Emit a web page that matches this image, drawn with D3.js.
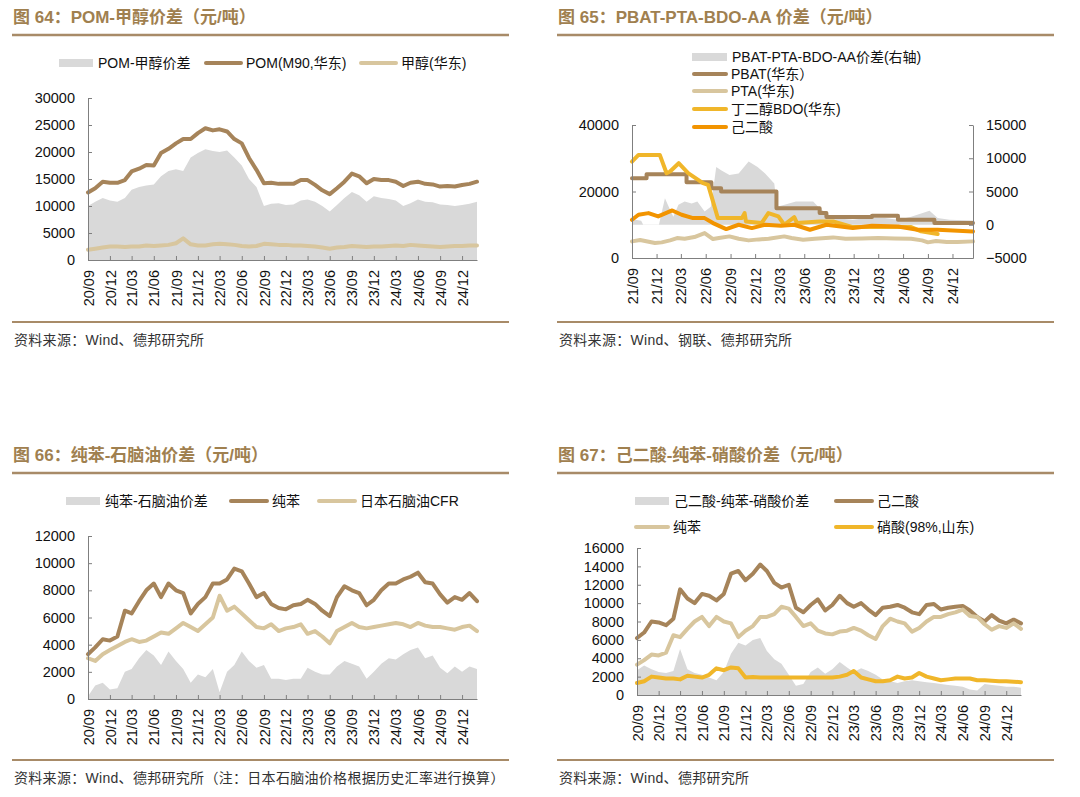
<!DOCTYPE html>
<html>
<head>
<meta charset="utf-8">
<title>价差图 64-67</title>
<style>
  body { margin: 0px; background: #fff; }
  text { font-family: "Liberation Sans", Arial, "Noto Sans CJK SC", sans-serif; }
  .axis path, .axis line { stroke: #7f7f7f; stroke-width: 1px; }
  .axis text { font-size: 14.5px; fill: #111; }
  .title { font-size: 17px; font-weight: bold; fill: #a0804f; }
  .legend { font-size: 14px; fill: #111; }
  .source { font-size: 14px; fill: #333; letter-spacing: 0.3px; }
  .rule { stroke: #a88b68; }
  .series { fill: none; stroke-width: 4px; stroke-linejoin: round; stroke-linecap: round; }
</style>
</head>
<body>
<svg width="1080" height="797"></svg>
<script src="https://d3js.org/d3.v7.min.js"></script>
<script>
// ---- data (monthly) ----
var months = ["2020-09","2020-10","2020-11","2020-12",
  "2021-01","2021-02","2021-03","2021-04","2021-05","2021-06","2021-07","2021-08","2021-09","2021-10","2021-11","2021-12",
  "2022-01","2022-02","2022-03","2022-04","2022-05","2022-06","2022-07","2022-08","2022-09","2022-10","2022-11","2022-12",
  "2023-01","2023-02","2023-03","2023-04","2023-05","2023-06","2023-07","2023-08","2023-09","2023-10","2023-11","2023-12",
  "2024-01","2024-02","2024-03","2024-04","2024-05","2024-06","2024-07","2024-08","2024-09","2024-10","2024-11","2024-12",
  "2025-01","2025-02"];

var ticks20 = ["20/09","20/12","21/03","21/06","21/09","21/12","22/03","22/06","22/09","22/12",
  "23/03","23/06","23/09","23/12","24/03","24/06","24/09","24/12"];
var ticks21 = ["21/09","21/12","22/03","22/06","22/09","22/12","23/03","23/06","23/09","23/12",
  "24/03","24/06","24/09","24/12"];

// 图64
var pomSpread = [10000,10800,11500,11000,
  10800,11500,13000,13500,13800,14000,15500,16500,16800,16500,19000,19800,
  20500,20200,20000,20300,19000,17500,15000,13500,10000,10400,10500,10200,
  10300,11000,11200,10800,10000,9000,10200,11500,12600,12000,10800,11800,
  11500,11300,11000,10000,10500,11200,10800,10700,10300,10200,10000,10200,
  10400,10800];
var pomPrice = [12500,13300,14500,14300,
  14300,14800,16400,16900,17600,17500,19800,20600,21600,22400,22400,23500,
  24400,24000,24200,23800,22400,21600,18900,16700,14200,14300,14100,14100,
  14100,14800,14800,13900,12900,12200,13300,14500,16000,15500,14200,15000,
  14800,14800,14500,13700,14300,14500,14100,14000,13600,13700,13600,13900,
  14100,14500];
var methanol = [1900,2100,2300,2500,
  2500,2400,2500,2500,2700,2600,2700,2800,3100,4000,2900,2700,
  2700,2900,3000,2900,2800,2600,2500,2600,3000,2900,2800,2800,
  2700,2700,2600,2500,2300,2100,2300,2400,2600,2500,2400,2500,
  2500,2600,2700,2600,2800,2700,2600,2500,2400,2500,2600,2600,
  2700,2700];

// 图65 (change points)
var pbatSpread = [["2021-09-01",2200],["2021-09-08",800],["2021-10-05",600],["2021-10-12",50],["2021-12-10",50],
  ["2022-01-01",4000],["2022-01-15",2700],["2022-02-01",1200],["2022-02-20",3000],["2022-03-15",3500],
  ["2022-04-10",3200],["2022-05-01",3500],["2022-05-28",2000],["2022-06-20",2700],["2022-07-10",8700],
  ["2022-07-28",8200],["2022-08-28",7500],["2022-10-01",7700],["2022-11-07",9500],["2022-12-10",8700],
  ["2023-01-07",7700],["2023-02-10",6200],["2023-02-20",2700],["2023-03-20",3000],["2023-05-01",3500],
  ["2023-07-04",3500],["2023-07-28",2500],["2023-09-16",1000],["2023-11-28",750],["2024-01-20",1000],
  ["2024-03-25",1000],["2024-05-13",750],["2024-07-01",1200],["2024-09-07",2100],["2024-10-07",1000],
  ["2024-11-20",750],["2025-02-15",650]];
var pbatPrice = [["2021-09-01",24000],["2021-10-25",25200],["2022-03-22",22800],["2022-06-22",21000],
  ["2022-07-28",20000],["2023-02-18",15000],["2023-07-28",13500],["2023-08-22",12300],["2024-02-07",12700],
  ["2024-05-13",11500],["2024-09-25",10500],["2025-02-15",10500]];
var ptaPrice = [["2021-09-01",5000],["2021-10-01",5400],["2021-11-25",4500],["2021-12-20",4700],["2022-01-20",5300],
  ["2022-02-15",6000],["2022-03-15",5800],["2022-04-20",6300],["2022-05-28",7500],["2022-06-28",5700],
  ["2022-07-20",6000],["2022-08-28",6500],["2022-10-01",5800],["2022-11-07",5300],["2022-12-15",5600],
  ["2023-01-20",5800],["2023-03-19",6500],["2023-04-15",6000],["2023-05-28",5500],["2023-07-10",5800],
  ["2023-09-16",6200],["2023-11-01",5800],["2024-01-01",5900],["2024-03-01",6000],["2024-05-01",5900],
  ["2024-07-01",5800],["2024-08-10",5300],["2024-09-01",4700],["2024-10-01",5100],["2024-11-10",4800],
  ["2024-12-20",4800],["2025-02-15",5000]];
var bdoPrice = [["2021-09-01",29000],["2021-09-25",31000],["2021-12-13",31000],["2022-01-07",25500],
  ["2022-01-20",26000],["2022-02-21",28500],["2022-03-28",25500],["2022-05-22",22500],["2022-06-10",22000],
  ["2022-07-16",12000],["2022-10-13",12000],["2022-10-23",13500],["2022-10-28",11000],["2022-12-25",10500],
  ["2023-01-19",13500],["2023-02-25",12500],["2023-03-19",10000],["2023-04-25",12300],["2023-05-05",10500],
  ["2023-07-28",11000],["2023-09-16",11000],["2023-11-28",9300],["2024-03-25",9300],["2024-07-01",9300],
  ["2024-08-07",8000],["2024-10-07",7200]];
var adipicEast = [["2021-09-01",11500],["2021-09-25",13000],["2021-11-01",13500],["2021-12-07",12500],
  ["2022-01-28",14300],["2022-03-04",13000],["2022-04-15",12000],["2022-05-28",12000],["2022-06-28",10500],
  ["2022-08-16",8700],["2022-10-01",10000],["2022-11-19",9000],["2023-01-07",10000],["2023-03-07",9700],
  ["2023-04-25",10000],["2023-06-22",8500],["2023-08-22",10000],["2023-11-28",9000],["2024-02-07",9700],
  ["2024-05-13",9500],["2024-07-25",8500],["2024-10-07",8500],["2025-02-15",8000]];

// 图66
var benzeneSpread = [200,1000,1200,700,
  800,2000,2200,3000,3600,3200,2500,3500,2800,2200,1200,1800,
  1600,2200,500,2000,2500,3500,2800,2300,2500,1500,1500,1400,
  1500,1500,2300,2000,1800,1800,2400,2800,2600,2400,1500,2000,
  2600,3000,2900,3300,3600,3800,3000,3200,2300,1900,2400,2000,
  2400,2200];
var benzene = [3300,3800,4400,4300,
  4600,6500,6300,7200,8000,8500,7500,8500,8000,7800,6300,7000,
  7500,8500,8500,8800,9600,9400,8500,7500,7800,7000,6700,6600,
  6900,7000,7300,7000,6500,6100,7500,8300,8000,7800,6900,7300,
  8000,8500,8500,8800,9000,9300,8600,8500,7700,7100,7500,7300,
  7800,7200];
var naphtha = [3000,2800,3300,3600,
  3900,4200,4400,4200,4300,4600,4900,4800,5200,5600,5300,5000,
  5500,6000,7600,6500,6800,6300,5800,5300,5200,5500,5000,5200,
  5300,5500,4800,5000,4600,4100,5000,5300,5600,5300,5200,5300,
  5400,5500,5600,5500,5300,5600,5400,5300,5300,5200,5100,5300,
  5400,5000];

// 图67
var adipicSpread = [2700,3200,2800,2500,
  2400,2600,5000,2800,2400,2200,1900,1600,2500,4500,5700,5400,
  6000,6200,4800,3900,3400,2200,1000,1200,2500,3000,2300,2800,
  3600,3000,2500,2900,2600,2200,1700,1500,1300,1500,1600,1500,
  1400,1300,1200,1100,1000,900,600,500,1200,1100,1000,900,
  900,800];
var adipicAcid = [6200,6800,8000,7900,
  7600,8300,11500,10500,10000,11000,10800,10300,11000,13200,13500,12500,
  13200,14200,13500,12200,11700,12000,9500,9000,9800,10400,9200,9800,
  10800,10000,9600,10000,9300,8700,9500,9600,9800,9500,9000,8800,
  9800,9900,9300,9500,9600,9700,9200,8500,8000,8700,8100,7800,
  8200,7800];
var nitricAcid = [1300,1500,2000,1900,
  1800,1800,1700,2100,2000,1900,2200,2900,2700,3000,2900,1900,
  1950,1900,1900,1900,1900,1900,1900,1900,1900,1900,1900,1900,
  2000,2200,2600,1900,1700,1500,1500,1600,2000,1800,1900,2400,
  2000,1800,1600,1700,1800,1800,1800,1600,1600,1550,1500,1500,
  1450,1400];

var ticksP1 = [0,5000,10000,15000,20000,25000,30000];
var ticksP2L = [0,20000,40000];
var ticksP2R = [-5000,0,5000,10000,15000];
var ticksP3 = [0,2000,4000,6000,8000,10000,12000];
var ticksP4 = [0,2000,4000,6000,8000,10000,12000,14000,16000];

// ---- colours ----
var DARK = "#a6845a", TAN = "#d8c69e", GRAY = "#d9d9d9", YELLOW = "#f0b62a", ORANGE = "#f29400";

var svg = d3.select("svg");
var parseMonth = d3.timeParse("%Y-%m");
var parseDay = d3.timeParse("%Y-%m-%d");
var parseTick = d3.timeParse("%y/%m");

function monthly(values) {
  return months.map(function(m, i) { return {date: parseMonth(m), value: values[i]}; });
}
function points(list) {
  return list.map(function(p) { return {date: parseDay(p[0]), value: p[1]}; });
}

function frame(left, top, title, source) {
  svg.append("text").attr("class", "title")
    .attr("x", left + 1).attr("y", top + 23).text(title);
  svg.append("line").attr("class", "rule")
    .attr("x1", left).attr("x2", left + 497).attr("y1", top + 35).attr("y2", top + 35)
    .attr("stroke-width", 2.5);
  svg.append("line").attr("class", "rule")
    .attr("x1", left).attr("x2", left + 497).attr("y1", top + 322).attr("y2", top + 322)
    .attr("stroke-width", 2);
  svg.append("text").attr("class", "source")
    .attr("x", left + 2).attr("y", top + 345).text(source);
}

function xAxis(x, yPos, labels) {
  var g = svg.append("g").attr("class", "axis")
    .attr("transform", "translate(0," + yPos + ")")
    .call(d3.axisBottom(x).tickValues(labels.map(parseTick))
      .tickFormat(d3.timeFormat("%y/%m")).tickSizeInner(-4).tickSizeOuter(0));
  g.selectAll("text")
    .attr("transform", "rotate(-90)")
    .attr("x", -10).attr("y", 0).attr("dy", "0.35em")
    .style("text-anchor", "end");
}

function yAxis(y, xPos, ticks, right) {
  var axis = right ? d3.axisRight(y) : d3.axisLeft(y);
  axis.tickValues(ticks).tickFormat(d3.format("d")).tickSizeInner(-4).tickSizeOuter(0).tickPadding(13);
  svg.append("g").attr("class", "axis")
    .attr("transform", "translate(" + xPos + ",0)")
    .call(axis);
}

function area(data, x, y, base) {
  svg.append("path").datum(data)
    .attr("fill", GRAY)
    .attr("d", d3.area().x(function(d) { return x(d.date); })
      .y0(y(base)).y1(function(d) { return y(d.value); }));
}

function line(data, x, y, color, curve) {
  svg.append("path").datum(data)
    .attr("class", "series").attr("stroke", color)
    .attr("d", d3.line().curve(curve || d3.curveLinear)
      .x(function(d) { return x(d.date); }).y(function(d) { return y(d.value); }));
}

function legendItem(kind, x1, x2, y, color, label) {
  if (kind == "area") {
    svg.append("rect").attr("x", x1).attr("y", y - 4).attr("width", x2 - x1).attr("height", 8).attr("fill", GRAY);
  } else {
    svg.append("line").attr("x1", x1).attr("x2", x2).attr("y1", y).attr("y2", y)
      .attr("stroke", color).attr("stroke-width", 4).attr("stroke-linecap", "round");
  }
  svg.append("text").attr("class", "legend")
    .attr("x", x2 + 5).attr("y", y).attr("dy", "0.36em").text(label);
}

// ---- 图64 ----
frame(12, 0, "图 64：POM-甲醇价差（元/吨）", "资料来源：Wind、德邦研究所");
var x1 = d3.scaleTime().domain([parseMonth("2020-09"), parseMonth("2025-02")]).range([88, 477]);
var y1 = d3.scaleLinear().domain([0, 30000]).range([260, 98]);
area(monthly(pomSpread), x1, y1, 0);
line(monthly(pomPrice), x1, y1, DARK);
line(monthly(methanol), x1, y1, TAN);
xAxis(x1, 260, ticks20);
yAxis(y1, 88, ticksP1, false);
legendItem("area", 59, 93, 63, GRAY, "POM-甲醇价差");
legendItem("line", 206, 241, 63, DARK, "POM(M90,华东)");
legendItem("line", 361, 396, 63, TAN, "甲醇(华东)");

// ---- 图65 ----
frame(557, 0, "图 65：PBAT-PTA-BDO-AA 价差（元/吨）", "资料来源：Wind、钢联、德邦研究所");
var x2 = d3.scaleTime().domain([parseDay("2021-09-01"), parseDay("2025-02-15")]).range([632, 973]);
var y2 = d3.scaleLinear().domain([0, 40000]).range([258, 125]);
var y2r = d3.scaleLinear().domain([-5000, 15000]).range([258, 125]);
area(points(pbatSpread), x2, y2r, 0);
line(points(pbatPrice), x2, y2, DARK, d3.curveStepAfter);
line(points(ptaPrice), x2, y2, TAN);
line(points(bdoPrice), x2, y2, YELLOW);
line(points(adipicEast), x2, y2, ORANGE);
xAxis(x2, 258, ticks21);
yAxis(y2, 632, ticksP2L, false);
yAxis(y2r, 973, ticksP2R, true);
legendItem("area", 692, 727, 57, GRAY, "PBAT-PTA-BDO-AA价差(右轴)");
legendItem("line", 694, 726, 74, DARK, "PBAT(华东）");
legendItem("line", 694, 726, 91, TAN, "PTA(华东)");
legendItem("line", 694, 726, 109, YELLOW, "丁二醇BDO(华东)");
legendItem("line", 694, 726, 127, ORANGE, "己二酸");

// ---- 图66 ----
frame(12, 438, "图 66：纯苯-石脑油价差（元/吨）", "资料来源：Wind、德邦研究所（注：日本石脑油价格根据历史汇率进行换算）");
var x3 = d3.scaleTime().domain([parseMonth("2020-09"), parseMonth("2025-02")]).range([88, 477]);
var y3 = d3.scaleLinear().domain([0, 12000]).range([699, 536]);
area(monthly(benzeneSpread), x3, y3, 0);
line(monthly(benzene), x3, y3, DARK);
line(monthly(naphtha), x3, y3, TAN);
xAxis(x3, 699, ticks20);
yAxis(y3, 88, ticksP3, false);
legendItem("area", 66, 100, 501, GRAY, "纯苯-石脑油价差");
legendItem("line", 231, 267, 501, DARK, "纯苯");
legendItem("line", 319, 355, 501, TAN, "日本石脑油CFR");

// ---- 图67 ----
frame(557, 438, "图 67：己二酸-纯苯-硝酸价差（元/吨）", "资料来源：Wind、德邦研究所");
var x4 = d3.scaleTime().domain([parseMonth("2020-09"), parseMonth("2025-02")]).range([637, 1021]);
var y4 = d3.scaleLinear().domain([0, 16000]).range([695, 548]);
area(monthly(adipicSpread), x4, y4, 0);
line(monthly(adipicAcid), x4, y4, DARK);
line(monthly(benzene), x4, y4, TAN);
line(monthly(nitricAcid), x4, y4, YELLOW);
xAxis(x4, 695, ticks20);
yAxis(y4, 637, ticksP4, false);
legendItem("area", 635, 669, 501, GRAY, "己二酸-纯苯-硝酸价差");
legendItem("line", 836, 872, 501, DARK, "己二酸");
legendItem("line", 636, 668, 527, TAN, "纯苯");
legendItem("line", 836, 872, 527, YELLOW, "硝酸(98%,山东)");
</script>
</body>
</html>
